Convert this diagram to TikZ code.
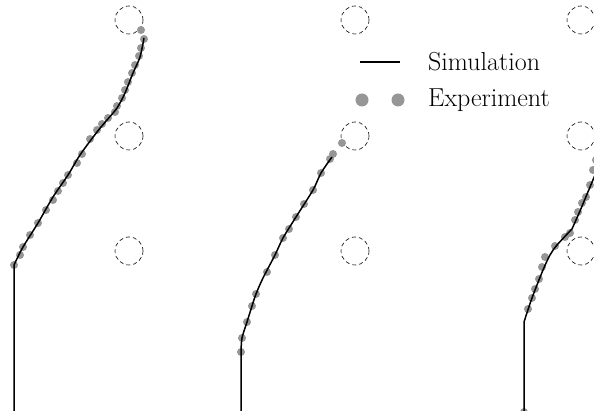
\documentclass[tikz,border=0pt]{standalone}
\usepackage{amsmath}
\usepackage{tikz}

\begin{document}
\begin{tikzpicture}[x=1pt,y=-1pt]
  \tikzstyle{hole} = [circle, draw=black, dash pattern=on 4pt off 3pt, line width=0.6pt, minimum size=28pt, inner sep=0pt]
  \tikzstyle{sim} = [-, line width=1.5pt, black]
  \tikzstyle{expt} = [fill={rgb,255:red,150;green,150;blue,150}]
  \tikzstyle{label} = [anchor=west, inner sep=0pt, font=\fontsize{26}{31}\selectfont]

  \clip (0,0) rectangle (594,411);

  \node[hole] (h11) at (129,20) {};
  \node[hole] (h12) at (129,136) {};
  \node[hole] (h13) at (129,251) {};
  \node[hole] (h21) at (355,20) {};
  \node[hole] (h22) at (355,136) {};
  \node[hole] (h23) at (355,251) {};
  \node[hole] (h31) at (581,20) {};
  \node[hole] (h32) at (581,136) {};
  \node[hole] (h33) at (581,251) {};

  % experiment
  \fill[expt] (14,265) circle (4) (20,255) circle (4) (23,247) circle (4)
    (30,235) circle (4) (38,223) circle (4) (46,210) circle (4)
    (53,200) circle (4) (58,191) circle (4) (63,183) circle (4)
    (68,175) circle (4) (77,163) circle (4) (82,154) circle (4)
    (90,139) circle (4) (97,130) circle (4) (102,124) circle (4)
    (108,118) circle (4) (115,112) circle (4) (117,106) circle (4)
    (122,98) circle (4) (125,90) circle (4) (128,82) circle (4)
    (132,73) circle (4) (135,65) circle (4) (139,56) circle (4)
    (141,48) circle (4) (144,39) circle (4) (141,30) circle (4);
  \fill[expt] (241,352) circle (4) (242,338) circle (4) (247,322) circle (4)
    (252,306) circle (4) (256,294) circle (4) (267,272) circle (4)
    (275,255) circle (4) (283,238) circle (4) (289,229) circle (4)
    (296,217) circle (4) (304,204) circle (4) (313,190) circle (4)
    (321,173) circle (4) (330,159) circle (4) (333,154) circle (4)
    (342,143) circle (4);
  \fill[expt] (524,412) circle (4) (528,309) circle (4) (532,298) circle (4)
    (535,289) circle (4) (539,279) circle (4) (542,267) circle (4)
    (545,257) circle (4) (555,246) circle (4) (565,237) circle (4)
    (570,233) circle (4) (575,220) circle (4) (578,212) circle (4)
    (582,203) circle (4) (586,197) circle (4) (590,185) circle (4)
    (593,170) circle (4) (596,160) circle (4);

  % simulation
  \draw[sim] (14,411) -- (14,265) plot[smooth] coordinates {(14,265) (23,247) (38,223)
    (53,197) (68,175) (80,155) (97,132) (107,120) (117,108) (125,93) (133,73) (140,57) (144,38)};
  \draw[sim] (241,411) -- (241,352) plot[smooth] coordinates {(241,352) (242,338) (247,322)
    (252,306) (256,294) (263,278) (275,255) (283,238) (296,217) (313,190) (321,173) (332,157)};
  \draw[sim] (524,411) -- (524,322) plot[smooth] coordinates {(524,322) (532,298) (543,270)
    (550,255) (557,245) (572,229)} -- (580,211) -- (600,163);

  % legend
  \coordinate (simA) at (360,62);
  \coordinate (simB) at (400,62);
  \draw[sim, line width=2pt] (simA) -- (simB);
  \fill[expt] (362,100) circle (6.5) (398,100) circle (6.5);
  \node[label] (simtext) at (428,62) {Simulation};
  \node[label] (exptext) at (428,100) {Experiment};
\end{tikzpicture}
\end{document}
